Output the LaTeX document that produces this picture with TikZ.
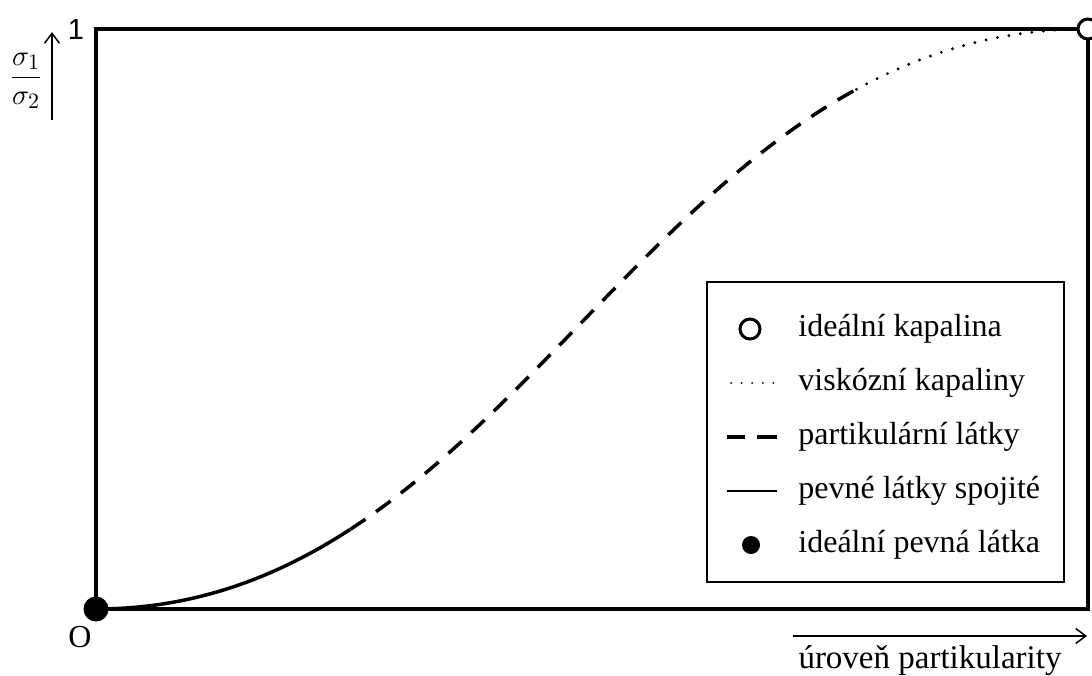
\documentclass[tikz,border=0pt]{standalone}
\usepackage{fontspec}
\setmainfont{Liberation Serif}
\newfontfamily\sansf{Liberation Sans}
\usetikzlibrary{arrows.meta}
\begin{document}
\begin{tikzpicture}[x=0.5pt,y=-0.5pt,
  lbl/.style={font=\fontsize{16}{19}\selectfont, inner sep=0pt, anchor=west},
  curvesolid/.style={line width=1.75pt},
  curvedash/.style={line width=1.75pt, dash pattern=on 9pt off 6.5pt},
  curvedot/.style={line width=1.6pt, line cap=round, dash pattern=on 0pt off 5.8pt},
  axarrow/.style={line width=0.75pt, -{Straight Barb[length=5pt,width=7.5pt]}},
  declare function={bx(\s)=96+992*(3*0.424*\s*(1-\s)^2+3*0.557*\s^2*(1-\s)+\s^3);
                    by(\s)=609-580*(3*\s^2-2*\s^3);}]
\useasboundingbox (0,0) rectangle (1092,675);
\coordinate (O) at (96,609);
\coordinate (TR) at (1088,29);
% frame
\draw[line width=1.8pt] (O) rectangle (TR);
% curve
\draw[curvesolid] plot[domain=0:0.233,samples=40,smooth] ({bx(\x)},{by(\x)});
\draw[curvedash] plot[domain=0.233:0.8,samples=90,smooth] ({bx(\x)},{by(\x)});
\draw[curvedot] plot[domain=0.8:1,samples=40,smooth] ({bx(\x)},{by(\x)});
% end points
\fill (O) circle (6.25pt);
\draw[line width=1.5pt, fill=white] (TR) circle (5pt);
% labels at axes
\node[font=\fontsize{16}{19}\selectfont, inner sep=0pt] (olbl) at (80,637) {O};
\node[font=\sansf\fontsize{14.5}{17}\selectfont, inner sep=0pt] (one) at (76,30) {1};
\node[font=\fontsize{15}{18}\selectfont, inner sep=0pt] (frac) at (26,81) {$\displaystyle\frac{\sigma_1}{\sigma_2}$};
\coordinate (ya) at (52,120);
\coordinate (yb) at (52,32);
\draw[axarrow] (ya) -- (yb);
\coordinate (xa) at (793,636);
\coordinate (xb) at (1087,636);
\draw[axarrow] (xa) -- (xb);
\node[font=\fontsize{16.5}{19}\selectfont, inner sep=0pt] (xlbl) at (930,661) {úroveň partikularity};
% legend
\node[draw, line width=0.9pt, minimum width=178.5pt, minimum height=150pt, inner sep=0pt] (legend) at (885.5,432) {};
\node[lbl] (l1) at (798,329) {ideální kapalina};
\node[lbl] (l2) at (798,383) {viskózní kapaliny};
\node[lbl] (l3) at (798,437) {partikulární látky};
\node[lbl] (l4) at (798,491) {pevné látky spojité};
\node[lbl] (l5) at (798,545) {ideální pevná látka};
\draw[line width=1.5pt] (750,329) circle (5pt);
\draw[line width=1pt, line cap=round, dash pattern=on 0pt off 5.3pt] (731,383) -- (777,383);
\draw[line width=1.8pt] (727,437) -- (745,437);
\draw[line width=1.8pt] (757,437) -- (777,437);
\draw[line width=0.9pt] (727,491) -- (777,491);
\fill (751,545) circle (4.5pt);
\end{tikzpicture}
\end{document}
